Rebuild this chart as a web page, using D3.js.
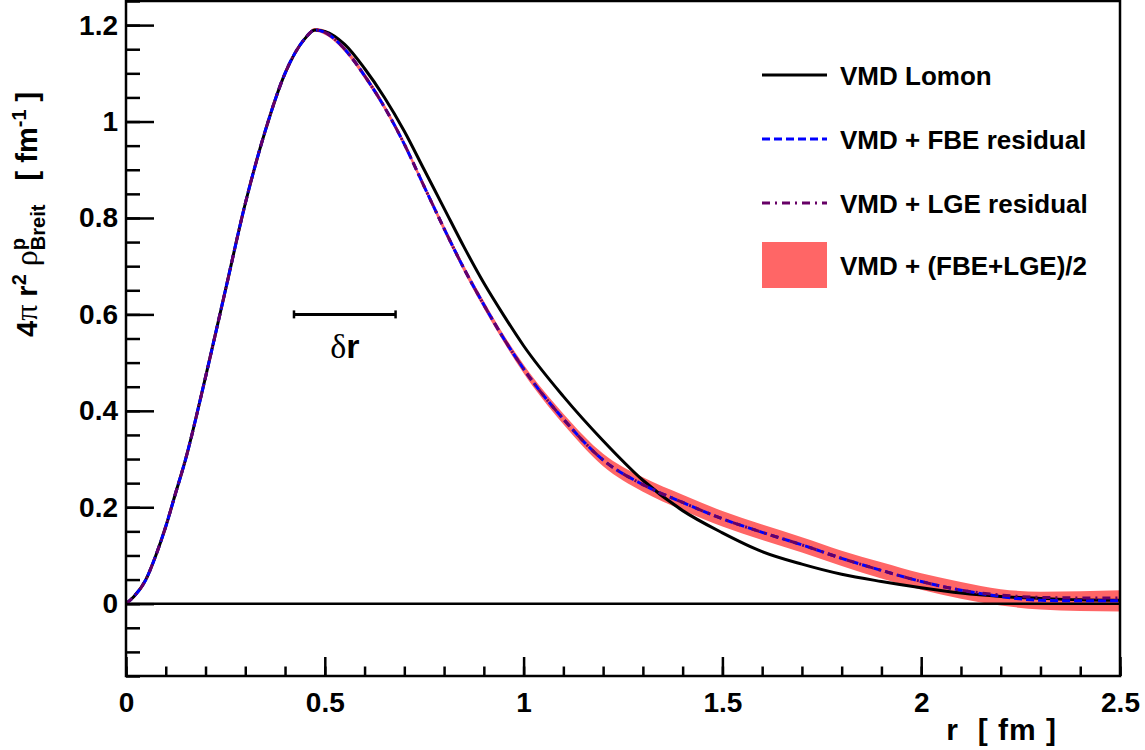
<!DOCTYPE html>
<html>
<head>
<meta charset="utf-8">
<script src="https://cdn.jsdelivr.net/npm/d3@7"></script>
<style>
  body { margin: 0; background: #fff; }
  text { font-family: "Liberation Sans", Arial, sans-serif; font-weight: bold; white-space: pre; }
</style>
</head>
<body>
<div id="chart"></div>
<script>
// radius grid [fm] and curves
var rVals  = [0, 0.02, 0.05, 0.075, 0.1, 0.125, 0.15, 0.2, 0.25, 0.3, 0.35, 0.4, 0.45, 0.475, 0.5, 0.55, 0.6, 0.65, 0.7, 0.75,
              0.8, 0.85, 0.9, 0.95, 1.0, 1.1, 1.2, 1.3, 1.4, 1.5, 1.6, 1.7, 1.8, 1.9, 2.0, 2.1, 2.2, 2.3, 2.4, 2.5];
var lomon  = [0, 0.015, 0.05, 0.1, 0.16, 0.23, 0.3, 0.47, 0.65, 0.83, 0.98, 1.10, 1.172, 1.19, 1.187, 1.16, 1.11, 1.05, 0.98, 0.9,
              0.82, 0.74, 0.665, 0.598, 0.535, 0.43, 0.338, 0.256, 0.193, 0.147, 0.108, 0.082, 0.061, 0.046, 0.033, 0.022, 0.015, 0.011, 0.008, 0.007];
var fbe    = [0, 0.015, 0.05, 0.1, 0.16, 0.23, 0.3, 0.47, 0.65, 0.83, 0.98, 1.10, 1.172, 1.19, 1.185, 1.15, 1.095, 1.03, 0.953, 0.865,
              0.778, 0.695, 0.62, 0.55, 0.487, 0.383, 0.298, 0.247, 0.21, 0.176, 0.148, 0.122, 0.094, 0.069, 0.046, 0.028, 0.015, 0.007, 0.006, 0.006];
var lge    = [0, 0.015, 0.05, 0.1, 0.16, 0.23, 0.3, 0.47, 0.65, 0.83, 0.98, 1.10, 1.172, 1.19, 1.185, 1.15, 1.095, 1.03, 0.953, 0.865,
              0.778, 0.695, 0.62, 0.55, 0.487, 0.383, 0.298, 0.247, 0.21, 0.176, 0.148, 0.122, 0.094, 0.069, 0.046, 0.028, 0.018, 0.013, 0.012, 0.012];
var bandLo = [0, 0.011, 0.046, 0.096, 0.156, 0.226, 0.296, 0.466, 0.646, 0.826, 0.976, 1.096, 1.168, 1.186, 1.180, 1.145, 1.089, 1.024, 0.947, 0.859,
              0.771, 0.688, 0.612, 0.542, 0.478, 0.372, 0.285, 0.232, 0.194, 0.160, 0.132, 0.106, 0.078, 0.052, 0.029, 0.010, -0.004, -0.012, -0.015, -0.016];
var bandHi = [0, 0.019, 0.054, 0.104, 0.164, 0.234, 0.304, 0.474, 0.654, 0.834, 0.984, 1.104, 1.176, 1.194, 1.190, 1.155, 1.101, 1.036, 0.959, 0.871,
              0.785, 0.702, 0.628, 0.558, 0.496, 0.394, 0.311, 0.262, 0.226, 0.192, 0.164, 0.138, 0.110, 0.086, 0.063, 0.045, 0.030, 0.025, 0.026, 0.028];

var xTicks = [0, 0.5, 1, 1.5, 2, 2.5];
var yTicks = [0, 0.2, 0.4, 0.6, 0.8, 1, 1.2];
var legendNames = ["VMD Lomon", "VMD + FBE residual", "VMD + LGE residual", "VMD + (FBE+LGE)/2"];
var deltaR = [0.4225, 0.678], deltaRLevel = 0.6;

// set the dimensions and margins of the graph
var margin = {top: 1, right: 25, bottom: 74, left: 126},
    width = 1145 - margin.left - margin.right,
    height = 750 - margin.top - margin.bottom;

var svg = d3.select("#chart")
  .append("svg")
    .attr("width", 1145)
    .attr("height", 750)
  .append("g")
    .attr("transform", "translate(" + margin.left + "," + margin.top + ")");

var x = d3.scaleLinear().domain([0, 2.5]).range([0, width]);
var y = d3.scaleLinear().domain([-0.15, 1.25]).range([height, 0]);

svg.append("clipPath").attr("id", "frame")
  .append("rect").attr("width", width).attr("height", height);

var plot = svg.append("g").attr("clip-path", "url(#frame)");

var pts = rVals.map(function(r, i) { return i; });

// error band
plot.append("path")
    .datum(pts)
    .attr("fill", "#ff6666")
    .attr("stroke", "none")
    .attr("d", d3.area()
      .curve(d3.curveMonotoneX)
      .x(function(i) { return x(rVals[i]); })
      .y0(function(i) { return y(bandLo[i]); })
      .y1(function(i) { return y(bandHi[i]); }));

// zero line
plot.append("line")
    .attr("x1", 0).attr("x2", width)
    .attr("y1", y(0)).attr("y2", y(0))
    .attr("stroke", "#000").attr("stroke-width", 2.5);

function curve(vals) {
  return d3.line()
    .curve(d3.curveMonotoneX)
    .x(function(i) { return x(rVals[i]); })
    .y(function(i) { return y(vals[i]); })(pts);
}

plot.append("path").attr("d", curve(lomon))
    .attr("fill", "none").attr("stroke", "#000").attr("stroke-width", 3);
plot.append("path").attr("d", curve(fbe))
    .attr("fill", "none").attr("stroke", "#0000ff").attr("stroke-width", 3)
    .attr("stroke-dasharray", "8,4");
plot.append("path").attr("d", curve(lge))
    .attr("fill", "none").attr("stroke", "#660066").attr("stroke-width", 3)
    .attr("stroke-dasharray", "8,5,2,5");

// axes: major + minor ticks pointing inwards
var fmt = d3.format("");
svg.append("g")
    .attr("class", "axis")
    .call(d3.axisLeft(y).tickValues(d3.range(-0.15, 1.2501, 0.05)).tickSize(-14).tickFormat(""));
svg.append("g")
    .attr("class", "axis")
    .call(d3.axisLeft(y).tickValues(yTicks).tickSize(-28).tickPadding(8).tickFormat(fmt));
svg.append("g")
    .attr("class", "axis")
    .attr("transform", "translate(0," + height + ")")
    .call(d3.axisBottom(x).tickValues(d3.range(0, 2.5001, 0.1)).tickSize(-9.5).tickFormat(""));
svg.append("g")
    .attr("class", "axis")
    .attr("transform", "translate(0," + height + ")")
    .call(d3.axisBottom(x).tickValues(xTicks).tickSize(-19).tickPadding(16).tickFormat(fmt));

svg.selectAll(".axis .domain").remove();
svg.selectAll(".axis line").attr("stroke", "#000").attr("stroke-width", 2.5);
svg.selectAll(".axis text")
    .attr("fill", "#000")
    .style("font-size", "28px")
    .style("font-family", "'Liberation Sans', Arial, sans-serif")
    .style("font-weight", "bold");

// frame
svg.append("rect")
    .attr("width", width).attr("height", height)
    .attr("fill", "none").attr("stroke", "#000").attr("stroke-width", 2.5);

// delta r marker
var dy0 = y(deltaRLevel);
svg.append("line")
    .attr("x1", x(deltaR[0])).attr("x2", x(deltaR[1]))
    .attr("y1", dy0).attr("y2", dy0)
    .attr("stroke", "#000").attr("stroke-width", 3);
deltaR.forEach(function(v) {
  svg.append("line")
    .attr("x1", x(v)).attr("x2", x(v))
    .attr("y1", dy0 - 4).attr("y2", dy0 + 4)
    .attr("stroke", "#000").attr("stroke-width", 2.5);
});
var dtxt = svg.append("text")
    .attr("x", x((deltaR[0] + deltaR[1]) / 2))
    .attr("y", dy0 + 44)
    .attr("text-anchor", "middle")
    .style("font-size", "34px");
dtxt.append("tspan").style("font-family", "'Liberation Serif', serif").style("font-weight", "normal").text("δ");
dtxt.append("tspan").text("r");

// X axis label
svg.append("text")
    .attr("x", 931)
    .attr("y", height + 64)
    .attr("text-anchor", "end")
    .style("font-size", "30px")
    .style("letter-spacing", "1px")
    .text("r  [ fm ]");

// Y axis label
var ylab = svg.append("text")
    .attr("transform", "translate(" + (37 - margin.left) + "," + (337 - margin.top) + ") rotate(-90)")
    .style("font-size", "29px");
ylab.append("tspan").text("4");
ylab.append("tspan").style("font-family", "'Liberation Serif', serif").style("font-weight", "normal").style("font-size", "32px").text("π");
ylab.append("tspan").text(" r");
ylab.append("tspan").attr("dy", -11).style("font-size", "20px").text("2");
ylab.append("tspan").attr("dy", 11).text(" ");
ylab.append("tspan").style("font-family", "'Liberation Serif', serif").style("font-weight", "normal").style("font-size", "32px").text("ρ");
ylab.append("tspan").attr("dy", -12).style("font-size", "20px").text("p");
ylab.append("tspan").attr("dx", -12.2).attr("dy", 20).style("font-size", "20px").text("Breit");
ylab.append("tspan").attr("dy", -8).text("   [ fm");
ylab.append("tspan").attr("dy", -11).style("font-size", "20px").text("-1");
ylab.append("tspan").attr("dy", 11).text(" ]");

// Handmade legend
var legY = [74, 138, 202, 264];
var lx0 = 762 - margin.left, lx1 = 827 - margin.left;
svg.append("line").attr("x1", lx0).attr("x2", lx1).attr("y1", legY[0]).attr("y2", legY[0])
    .attr("stroke", "#000").attr("stroke-width", 3);
svg.append("line").attr("x1", lx0).attr("x2", lx1).attr("y1", legY[1]).attr("y2", legY[1])
    .attr("stroke", "#0000ff").attr("stroke-width", 3).attr("stroke-dasharray", "8,4");
svg.append("line").attr("x1", lx0).attr("x2", lx1).attr("y1", legY[2]).attr("y2", legY[2])
    .attr("stroke", "#660066").attr("stroke-width", 3).attr("stroke-dasharray", "8,5,2,5");
svg.append("rect").attr("x", lx0).attr("y", legY[3] - 23).attr("width", lx1 - lx0).attr("height", 46)
    .attr("fill", "#ff6666");
legendNames.forEach(function(name, i) {
  svg.append("text")
    .attr("x", 840 - margin.left)
    .attr("y", legY[i] + 10)
    .style("font-size", "26px")
    .text(name);
});
</script>
</body>
</html>
